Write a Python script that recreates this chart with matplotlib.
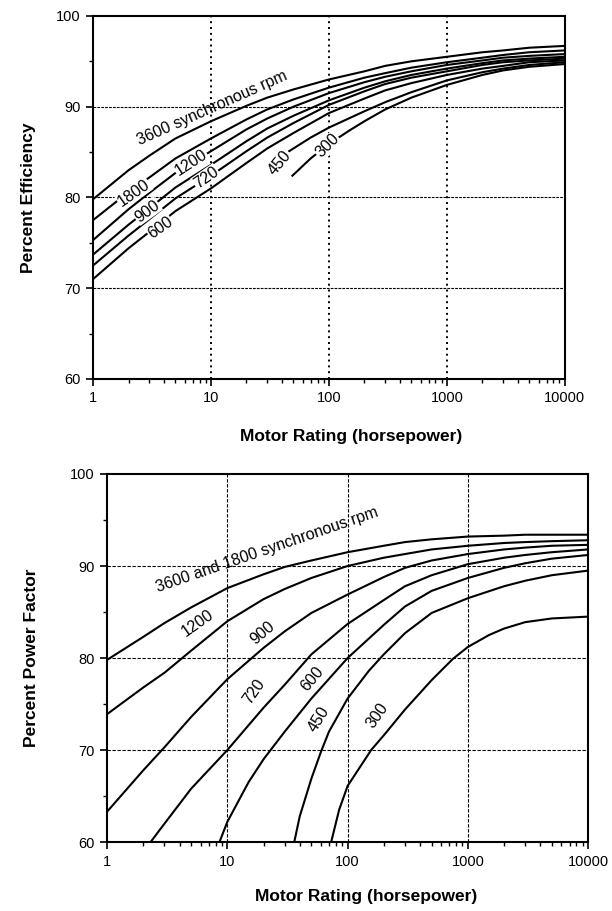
import matplotlib.pyplot as plt
from matplotlib.ticker import LogLocator, NullFormatter, FixedLocator

plt.rcParams['font.family'] = ['Liberation Sans', 'DejaVu Sans']

# ----------------------------------------------------------------------
# Data: efficiency and power factor vs. motor rating (hp)
# ----------------------------------------------------------------------

hp = [1, 2, 3, 5, 10, 20, 30, 50, 100, 200, 300, 500, 1000, 2000, 3000, 5000, 10000]

eff_3600 = [79.8, 83.0, 84.6, 86.5, 88.4, 90.1, 91.0, 91.9, 93.0, 93.9, 94.5, 95.0, 95.5, 96.0, 96.2, 96.5, 96.7]
eff_1800 = [77.5, 80.6, 82.2, 84.3, 86.5, 88.6, 89.7, 90.8, 92.1, 93.2, 93.7, 94.3, 94.9, 95.4, 95.7, 96.0, 96.2]
eff_1200 = [75.3, 78.7, 80.5, 82.7, 85.1, 87.5, 88.7, 90.0, 91.5, 92.7, 93.3, 93.9, 94.6, 95.1, 95.4, 95.6, 95.8]
eff_900 = [73.7, 77.0, 78.8, 81.1, 83.6, 86.2, 87.6, 89.0, 90.7, 92.1, 92.8, 93.5, 94.2, 94.8, 95.1, 95.3, 95.5]
eff_720 = [72.5, 75.8, 77.6, 79.9, 82.4, 85.1, 86.6, 88.2, 90.2, 91.7, 92.5, 93.2, 93.9, 94.6, 94.9, 95.1, 95.3]
eff_600 = [71.0, 74.4, 76.2, 78.5, 81.0, 83.8, 85.4, 87.1, 89.3, 90.9, 91.8, 92.6, 93.5, 94.2, 94.5, 94.9, 95.1]

hp_eff_450 = [46, 70, 100, 200, 300, 500, 1000, 2000, 3000, 5000, 10000]
eff_450 = [85.1, 86.6, 87.7, 89.5, 90.5, 91.6, 92.9, 93.8, 94.2, 94.6, 94.9]
hp_eff_300 = [49, 70, 100, 150, 200, 300, 500, 1000, 2000, 3000, 5000, 10000]
eff_300 = [82.4, 84.3, 85.9, 87.4, 88.4, 89.7, 91.0, 92.4, 93.5, 94.0, 94.4, 94.7]

pf_3600 = [79.8, 82.3, 83.8, 85.5, 87.6, 89.1, 89.9, 90.6, 91.5, 92.2, 92.6, 92.9, 93.2, 93.3, 93.4, 93.4, 93.4]
pf_1200 = [73.9, 76.8, 78.4, 80.8, 84.0, 86.4, 87.5, 88.7, 90.0, 90.9, 91.3, 91.8, 92.2, 92.5, 92.6, 92.7, 92.8]
pf_900 = [63.3, 67.8, 70.3, 73.6, 77.7, 81.1, 82.9, 84.9, 86.9, 88.8, 89.8, 90.6, 91.3, 91.8, 92.0, 92.2, 92.3]

hp_pf_720 = [2.3, 3, 5, 10, 20, 30, 50, 100, 200, 300, 500, 1000, 2000, 3000, 5000, 10000]
pf_720 = [60.0, 62.0, 65.8, 70.0, 74.6, 77.1, 80.4, 83.7, 86.3, 87.8, 89.0, 90.2, 90.9, 91.2, 91.5, 91.8]
hp_pf_600 = [8.6, 10, 15, 20, 30, 50, 100, 200, 300, 500, 1000, 2000, 3000, 5000, 10000]
pf_600 = [60.0, 62.2, 66.5, 69.0, 72.0, 75.6, 80.0, 83.6, 85.6, 87.3, 88.7, 89.8, 90.3, 90.8, 91.2]
hp_pf_450 = [36, 40, 50, 60, 70, 100, 150, 200, 300, 500, 1000, 2000, 3000, 5000, 10000]
pf_450 = [60.0, 62.8, 66.9, 69.8, 72.0, 75.6, 78.6, 80.4, 82.7, 84.9, 86.5, 87.8, 88.4, 89.0, 89.5]
hp_pf_300 = [73, 85, 100, 157, 200, 300, 500, 750, 1000, 1500, 2000, 3000, 5000, 10000]
pf_300 = [60.0, 63.5, 66.1, 70.0, 71.6, 74.4, 77.6, 79.9, 81.2, 82.5, 83.2, 83.9, 84.3, 84.5]

x_ticks = [1, 10, 100, 1000, 10000]
x_tick_labels = ['1', '10', '100', '1000', '10000']
y_ticks = [60, 70, 80, 90, 100]

# curve labels: text, x, y, angle, white box (breaks the line)
eff_labels = [
    ('3600 synchronous rpm', 10.3, 89.9, 24, False),
    ('1800', 2.22, 80.5, 35, True),
    ('1200', 6.8, 83.8, 33, True),
    ('900', 2.87, 78.5, 36, True),
    ('720', 9.1, 82.2, 35, True),
    ('600', 3.71, 76.7, 35, True),
    ('450', 38.3, 83.8, 50, True),
    ('300', 97, 85.7, 45, True),
]
pf_labels = [
    ('3600 and 1800 synchronous rpm', 21.4, 91.8, 19),
    ('1200', 5.67, 83.8, 35),
    ('900', 19.7, 82.7, 40),
    ('720', 16.7, 76.4, 55),
    ('600', 50.7, 77.7, 50),
    ('450', 57.8, 73.3, 58),
    ('300', 177.5, 73.8, 55),
]


def preparar_eixo(ax, estilo_v, estilo_h):
    ax.set_xscale('log')
    ax.set_xlim(1, 10000)
    ax.set_ylim(60, 100)
    ax.set_xticks(x_ticks)
    ax.set_xticklabels(x_tick_labels)
    ax.xaxis.set_minor_locator(LogLocator(base=10, subs=range(2, 10)))
    ax.xaxis.set_minor_formatter(NullFormatter())
    ax.set_yticks(y_ticks)
    ax.yaxis.set_minor_locator(FixedLocator([65, 75, 85, 95]))
    ax.tick_params(which='major', direction='out', length=5, width=1.2,
                   labelsize=10.5, pad=4)
    ax.tick_params(which='minor', direction='out', length=3, width=1.0)
    for s in ax.spines.values():
        s.set_linewidth(1.5)
    # grid lines drawn by hand so the two panels can differ
    for xv in [10, 100, 1000]:
        ax.axvline(xv, color='black', lw=estilo_v[1], ls=estilo_v[0], zorder=1)
    for yv in [70, 80, 90]:
        ax.axhline(yv, color='black', lw=estilo_h[1], ls=estilo_h[0], zorder=1)


fig = plt.figure(figsize=(6.12, 9.11), dpi=100)

# ----------------------------------------------------------------------
# Percent efficiency
# ----------------------------------------------------------------------
ax1 = fig.add_axes([0.152, 0.584, 0.771, 0.3985])
preparar_eixo(ax1, ((0, (1, 2)), 1.4), ((0, (2.5, 1)), 0.8))

for serie in [eff_3600, eff_1800, eff_1200, eff_900, eff_720, eff_600]:
    ax1.plot(hp, serie, color='black', lw=1.5, zorder=2)
ax1.plot(hp_eff_450, eff_450, color='black', lw=1.5, zorder=2)
ax1.plot(hp_eff_300, eff_300, color='black', lw=1.5, zorder=2)

for txt, xv, yv, ang, caixa in eff_labels:
    kw = {}
    if caixa:
        kw['bbox'] = dict(facecolor='white', edgecolor='none', pad=0.5)
    ax1.text(xv, yv, txt, rotation=ang, rotation_mode='anchor',
             ha='center', va='center', fontsize=11.5, zorder=3, **kw)

ax1.set_ylabel('Percent Efficiency', fontsize=12.5, fontweight='bold', labelpad=14)
fig.text(351 / 612, 1 - 436 / 911, 'Motor Rating (horsepower)',
         ha='center', va='center', fontsize=12.5, fontweight='bold')

# ----------------------------------------------------------------------
# Percent power factor
# ----------------------------------------------------------------------
ax2 = fig.add_axes([0.175, 0.0757, 0.786, 0.404])
preparar_eixo(ax2, ((0, (3, 1.5)), 0.8), ((0, (3, 1.5)), 0.8))

for serie in [pf_3600, pf_1200, pf_900]:
    ax2.plot(hp, serie, color='black', lw=1.5, zorder=2)
ax2.plot(hp_pf_720, pf_720, color='black', lw=1.5, zorder=2)
ax2.plot(hp_pf_600, pf_600, color='black', lw=1.5, zorder=2)
ax2.plot(hp_pf_450, pf_450, color='black', lw=1.5, zorder=2)
ax2.plot(hp_pf_300, pf_300, color='black', lw=1.5, zorder=2)

for txt, xv, yv, ang in pf_labels:
    ax2.text(xv, yv, txt, rotation=ang, rotation_mode='anchor',
             ha='center', va='center', fontsize=11.5, zorder=3)

ax2.set_ylabel('Percent Power Factor', fontsize=12.5, fontweight='bold', labelpad=22)
fig.text(366 / 612, 1 - 896 / 911, 'Motor Rating (horsepower)',
         ha='center', va='center', fontsize=12.5, fontweight='bold')

fig.savefig('out.png', dpi=100)
